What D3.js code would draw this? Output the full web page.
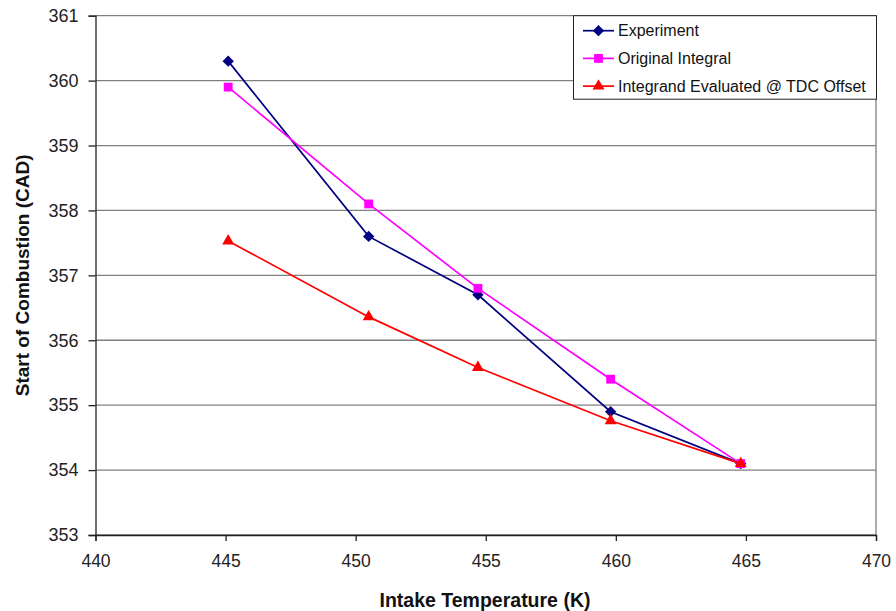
<!DOCTYPE html>
<html>
<head>
<meta charset="utf-8">
<script src="https://cdn.jsdelivr.net/npm/d3@7"></script>
<style>
  html, body { margin: 0; padding: 0; background: #fff; }
  svg { display: block; font-family: Arial, "Liberation Sans", sans-serif; }
</style>
</head>
<body>
<svg id="chart" width="896" height="611"></svg>
<script>
// Intake temperature (K) for each run
const temperature = [445.1, 450.5, 454.7, 459.8, 464.8];

// Start of combustion (CAD) per series
const experiment = [360.3, 357.6, 356.7, 354.9, 354.1];
const originalIntegral = [359.9, 358.1, 356.8, 355.4, 354.1];
const integrandTDC = [357.53, 356.36, 355.58, 354.76, 354.1];

const seriesNames = ["Experiment", "Original Integral", "Integrand Evaluated @ TDC Offset"];

// Axis ticks
const xTicks = [440, 445, 450, 455, 460, 465, 470];
const yTicks = [353, 354, 355, 356, 357, 358, 359, 360, 361];

const series = [
  { name: seriesNames[0], values: experiment, color: "#000080", symbol: d3.symbolDiamond2, size: 82 },
  { name: seriesNames[1], values: originalIntegral, color: "#FF00FF", symbol: d3.symbolSquare, size: 78 },
  { name: seriesNames[2], values: integrandTDC, color: "#FF0000", symbol: d3.symbolTriangle, size: 62 }
];

const svg = d3.select("#chart");
const plot = { left: 95.5, right: 876, top: 15.7, bottom: 535 };

const x = d3.scaleLinear().domain([440, 470]).range([plot.left, plot.right]);
const y = d3.scaleLinear().domain([353, 361]).range([plot.bottom, plot.top]);

// Horizontal gridlines
svg.append("g")
  .selectAll("line")
  .data(yTicks)
  .join("line")
  .attr("x1", plot.left).attr("x2", plot.right)
  .attr("y1", d => y(d)).attr("y2", d => y(d))
  .attr("stroke", "#808080").attr("stroke-width", 1.3);

// Right edge of the plot area
svg.append("line")
  .attr("x1", plot.right).attr("x2", plot.right)
  .attr("y1", plot.top).attr("y2", plot.bottom)
  .attr("stroke", "#808080").attr("stroke-width", 1.3);

// Y axis
const yAxis = svg.append("g")
  .attr("transform", `translate(${plot.left},0)`)
  .call(d3.axisLeft(y).tickValues(yTicks).tickSize(7).tickPadding(10).tickFormat(d3.format("d")));
yAxis.select(".domain").attr("stroke", "#222").attr("stroke-width", 1.3);
yAxis.selectAll(".tick line").attr("stroke", "#222").attr("stroke-width", 1.3);
yAxis.selectAll("text").attr("font-size", 18).attr("fill", "#222")
  .attr("font-family", "Arial, 'Liberation Sans', sans-serif");

// X axis
const xAxis = svg.append("g")
  .attr("transform", `translate(0,${plot.bottom})`)
  .call(d3.axisBottom(x).tickValues(xTicks).tickSize(6).tickPadding(14).tickFormat(d3.format("d")));
xAxis.select(".domain").attr("stroke", "#222").attr("stroke-width", 1.3);
xAxis.selectAll(".tick line").attr("stroke", "#222").attr("stroke-width", 1.3);
xAxis.selectAll("text").attr("font-size", 17.5).attr("fill", "#222")
  .attr("font-family", "Arial, 'Liberation Sans', sans-serif");

// Axis titles
svg.append("text")
  .attr("x", 485)
  .attr("y", 607)
  .attr("text-anchor", "middle")
  .attr("font-size", 19.5).attr("font-weight", "bold").attr("fill", "#111")
  .text("Intake Temperature (K)");

svg.append("text")
  .attr("transform", `translate(29,${(plot.top + plot.bottom) / 2}) rotate(-90)`)
  .attr("text-anchor", "middle")
  .attr("font-size", 19).attr("font-weight", "bold").attr("fill", "#111")
  .text("Start of Combustion (CAD)");

// Series lines and markers
const line = d3.line()
  .x((d, i) => x(temperature[i]))
  .y(d => y(d));

series.forEach(s => {
  svg.append("path")
    .datum(s.values)
    .attr("d", line)
    .attr("fill", "none")
    .attr("stroke", s.color)
    .attr("stroke-width", 1.7);

  svg.append("g")
    .selectAll("path")
    .data(s.values)
    .join("path")
    .attr("transform", (d, i) => `translate(${x(temperature[i])},${y(d)})`)
    .attr("d", d3.symbol().type(s.symbol).size(s.size))
    .attr("fill", s.color);
});

// Legend
const legend = svg.append("g");
legend.append("rect")
  .attr("x", 573.5).attr("y", 15.7)
  .attr("width", 303).attr("height", 83.5)
  .attr("fill", "#fff").attr("stroke", "#222").attr("stroke-width", 1);

series.forEach((s, i) => {
  const ly = 30.7 + i * 27.7;
  const g = legend.append("g");
  g.append("line")
    .attr("x1", 583).attr("x2", 614)
    .attr("y1", ly).attr("y2", ly)
    .attr("stroke", s.color).attr("stroke-width", 1.7);
  g.append("path")
    .attr("transform", `translate(598.5,${ly})`)
    .attr("d", d3.symbol().type(s.symbol).size(s.size))
    .attr("fill", s.color);
  g.append("text")
    .attr("x", 618).attr("y", ly + 5.5)
    .attr("font-size", 16).attr("fill", "#111")
    .text(s.name);
});
</script>
</body>
</html>
